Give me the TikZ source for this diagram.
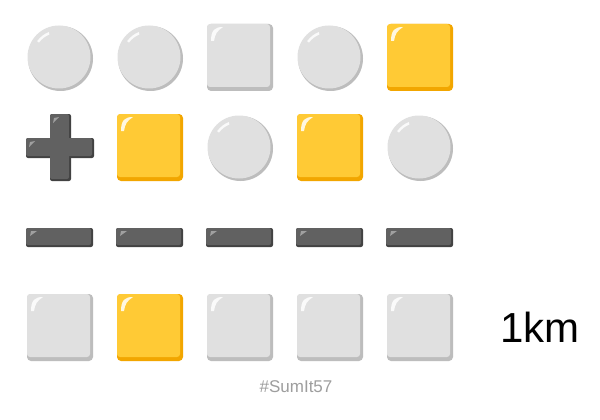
\documentclass[tikz,border=0pt]{standalone}
\usepackage{fontspec}
\setmainfont{Liberation Sans}
\definecolor{gfill}{HTML}{E0E0E0}
\definecolor{gshad}{HTML}{BDBDBD}
\definecolor{yfill}{HTML}{FFCA35}
\definecolor{yshad}{HTML}{F2A600}
\definecolor{dfill}{HTML}{616161}
\definecolor{dshad}{HTML}{424242}
\definecolor{tgrey}{HTML}{9E9E9E}
\tikzset{
  hilite/.style={fill=white, opacity=0.85},
  hilitedark/.style={fill=white, opacity=0.4}
}
\newcommand\emCirc[2]{%
  \fill[gshad] (#1+1.5,#2+1.5) circle (32.5);
  \fill[gfill] (#1,#2) circle (31.5);
  \fill[hilite] (#1,#2) ++(216:27) arc (216:248:27) -- ++(0.5,2.5) arc (248:216:24) -- cycle;
}
\newcommand\emSq[4]{%
  \fill[#4, rounded corners=4pt] (#1-33,#2-33) rectangle (#1+33,#2+34);
  \fill[#3, rounded corners=3pt] (#1-33,#2-33) rectangle (#1+30,#2+30);
  \fill[hilite] (#1-29,#2-16) .. controls (#1-29,#2-27) and (#1-25,#2-30) .. (#1-17,#2-30)
     .. controls (#1-23,#2-26) and (#1-25,#2-23) .. (#1-26,#2-16) -- cycle;
}
\begin{document}
\begin{tikzpicture}[x=1pt,y=-1pt]
\useasboundingbox (0,0) rectangle (600,420);
\fill[white] (0,0) rectangle (600,420);
% row 1
\emCirc{59}{57}
\emCirc{149}{57}
\emSq{240}{57}{gfill}{gshad}
\emCirc{329}{57}
\emSq{420}{57}{yfill}{yshad}
% row 2 : plus
\fill[dshad, rounded corners=2pt] (50,114) rectangle (71,181);
\fill[dshad, rounded corners=2pt] (26,138) rectangle (94,158);
\fill[dfill, rounded corners=2pt] (50,114) rectangle (69,179);
\fill[dfill, rounded corners=2pt] (26,138) rectangle (92,156);
\fill[hilitedark] (53,123) -- (54,118) -- (59,117) -- cycle;
\fill[hilitedark] (29,147) -- (30,142) -- (35,141) -- cycle;
\emSq{150}{147}{yfill}{yshad}
\emCirc{239}{147}
\emSq{330}{147}{yfill}{yshad}
\emCirc{419}{147}
% row 3 : minus
\foreach \cx in {59,149,239,329,419}{
  \fill[dshad, rounded corners=2pt] (\cx-33,228) rectangle (\cx+34,247);
  \fill[dfill, rounded corners=2pt] (\cx-33,228) rectangle (\cx+32,245);
  \fill[hilitedark] (\cx-29,236) -- (\cx-28,231) -- (\cx-22,231) -- cycle;
}
% row 4
\emSq{60}{327}{gfill}{gshad}
\emSq{150}{327}{yfill}{yshad}
\emSq{240}{327}{gfill}{gshad}
\emSq{330}{327}{gfill}{gshad}
\emSq{420}{327}{gfill}{gshad}
\node[font=\fontsize{42}{42}\selectfont, anchor=center] (res) at (540,327) {1km};
\node[font=\fontsize{17}{17}\selectfont, text=tgrey] (tag) at (296,387) {\#SumIt57};
\end{tikzpicture}
\end{document}
